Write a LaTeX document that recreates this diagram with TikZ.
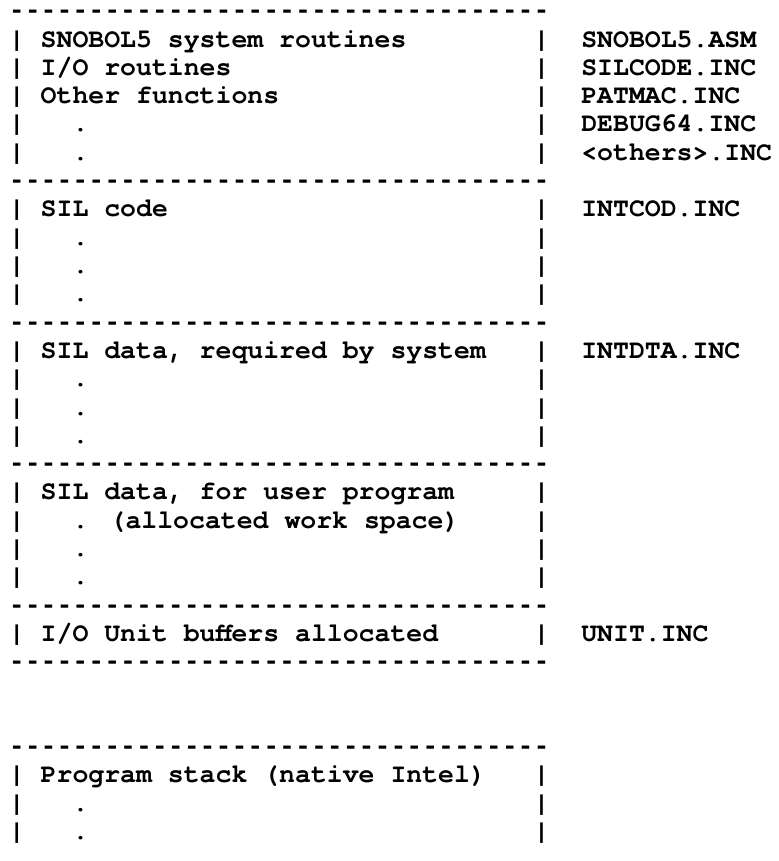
\documentclass[tikz,border=0pt]{standalone}
\usepackage{fontspec}
\newfontfamily\asciifont{TeX Gyre Cursor}
\newfontfamily\rulefont{Liberation Mono}

% 34 hyphens for a box rule
\newcommand\dashline{----------------------------------}

\begin{document}
\begin{tikzpicture}[x=7.95pt,y=-14.15pt,
    tt/.style={anchor=base west,inner sep=0pt,
      font=\asciifont\bfseries\fontsize{13.25pt}{14pt}\selectfont},
    rule/.style={tt,font=\rulefont\bfseries\fontsize{13.25pt}{14pt}\selectfont}]
    \useasboundingbox (-4.25pt,9.4pt) rectangle (384.75pt,-421.1pt);

    % box rules
    \foreach \r in {0,6,11,16,21,23,26}
        \node[rule] (d\r) at (0,\r) {\dashline};

    % box sides
    \foreach \r in {1,...,5,7,8,9,10,12,13,14,15,17,18,19,20,22,27,28,29} {
        \node[tt] (l\r) at (0,\r) {|};
        \node[tt] (r\r) at (33,\r) {|};
    }

    % continuation dots
    \foreach \r in {4,5,8,9,10,13,14,15,19,20,28,29}
        \node[tt] (p\r) at (4,\r) {.};

    \node[tt] (sys) at (2,1) {SNOBOL5 system routines};
    \node[tt] (io) at (2,2) {I/O routines};
    \node[tt] (oth) at (2,3) {Other functions};
    \node[tt] (silc) at (2,7) {SIL code};
    \node[tt] (sild) at (2,12) {SIL data, required by system};
    \node[tt] (usrd) at (2,17) {SIL data, for user program};
    \node[tt] (work) at (4,18) {. (allocated work space)};
    \node[tt] (unit) at (2,22) {I/O Unit buffers allocated};
    \node[tt] (stk) at (2,27) {Program stack (native Intel)};

    % source files
    \foreach \r/\f in {1/SNOBOL5.ASM,2/SILCODE.INC,3/PATMAC.INC,4/DEBUG64.INC,
                       5/<others>.INC,7/INTCOD.INC,12/INTDTA.INC,22/UNIT.INC}
        \node[tt] (f\r) at (36,\r) {\f};
\end{tikzpicture}
\end{document}
